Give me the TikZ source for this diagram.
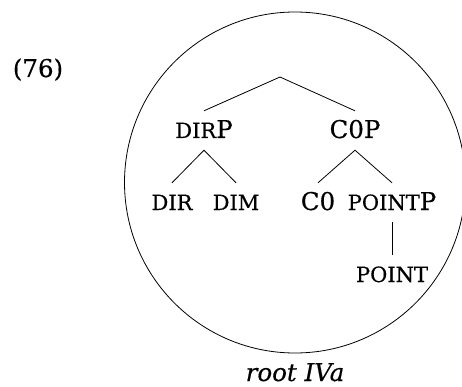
\documentclass[tikz,border=0pt]{standalone}
\usepackage{fontspec}
\setmainfont{DejaVu Serif}[FakeBold=0.4]
\newcommand{\fsc}[1]{{\fontsize{21}{22}\selectfont #1}}
\begin{document}
\begin{tikzpicture}[x=1pt,y=-1pt,
  lab/.style={font=\fontsize{24.5}{26}\selectfont, anchor=base, inner sep=0pt},
  cat/.style={lab, text height=18pt, text depth=3pt, inner ysep=9pt, inner xsep=0pt},
  edge/.style={line width=0.8pt}]
\useasboundingbox (0,0) rectangle (462,387);
\clip (0,0) rectangle (462,387);
\node[lab] (ex) at (38,77) {(76)};
\draw[line width=0.8pt] (295,182.5) circle (170.5);
\coordinate (top) at (280,77);
\node[cat] (dirp) at (204,138) {\fsc{DIR}P};
\node[cat] (c0p) at (355,138) {C0P};
\node[cat] (dir) at (172,210) {\fsc{DIR}};
\node[cat] (dim) at (236,210) {\fsc{DIM}};
\node[cat] (c0) at (318,210) {C0};
\node[cat] (pointp) at (392,210) {\fsc{POINT}P};
\node[cat] (point) at (392,282) {\fsc{POINT}};
\node[lab] (root) at (295,381) {\itshape root IVa};
\draw[edge] (dirp.north) -- (top) -- (c0p.north);
\draw[edge] (dir.north) -- (dirp.south) -- (dim.north);
\draw[edge] (c0.north) -- (c0p.south) -- (pointp.north);
\draw[edge] (pointp.south) -- (point.north);
\end{tikzpicture}
\end{document}
